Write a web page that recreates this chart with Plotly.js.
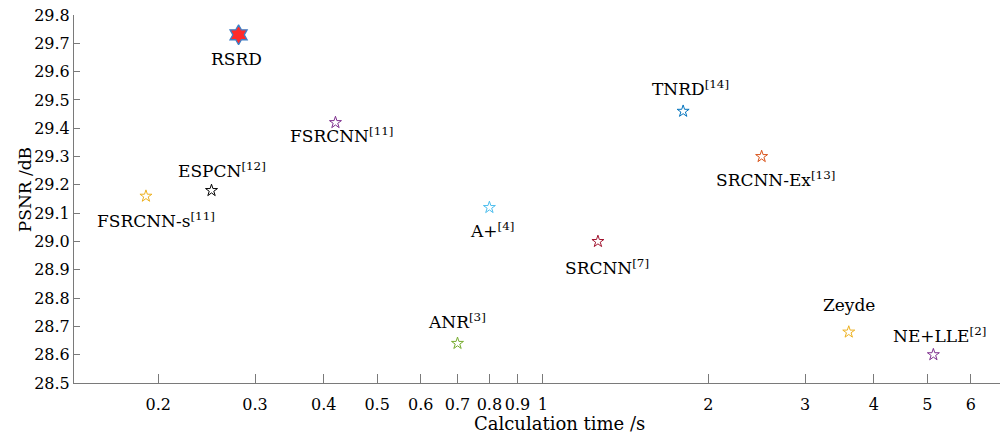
<!DOCTYPE html>
<html>
<head>
<meta charset="utf-8">
<script src="https://cdn.plot.ly/plotly-3.0.1.min.js"></script>
<style>
  html, body { margin: 0; padding: 0; background: #fff; }
  #chart { width: 1002px; height: 437px; }
</style>
</head>
<body>
<div id="chart"></div>
<script>
// ---- data ----
const methods = ["RSRD", "FSRCNN", "ESPCN", "FSRCNN-s", "A+", "SRCNN", "TNRD", "SRCNN-Ex", "ANR", "Zeyde", "NE+LLE"];
const refs    = ["", "[11]", "[12]", "[11]", "[4]", "[7]", "[14]", "[13]", "[3]", "", "[2]"];
const timeSec = [0.28, 0.42, 0.25, 0.19, 0.80, 1.26, 1.80, 2.50, 0.70, 3.60, 5.13];
const psnrDb  = [29.73, 29.42, 29.18, 29.16, 29.12, 29.00, 29.46, 29.30, 28.64, 28.68, 28.60];
const xTickVals = [0.2, 0.3, 0.4, 0.5, 0.6, 0.7, 0.8, 0.9, 1, 2, 3, 4, 5, 6];
const xTickText = ["0.2", "0.3", "0.4", "0.5", "0.6", "0.7", "0.8", "0.9", "1", "2", "3", "4", "5", "6"];

// ---- styling (not data) ----
const colors = ["#ff2a2a", "#7e2f8e", "#000000", "#edb120", "#4dbeee", "#a2142f", "#0072bd", "#d95319", "#77ac30", "#edb120", "#7e2f8e"];
const labelShift = [[-2, 24], [6, 12], [10, -21], [10, 24], [3, 23], [9, 26], [7, -23], [14, 22], [-1, -22], [0, -27], [6, -20]];
const FONT = "'DejaVu Serif', 'Liberation Serif', serif";

const traces = methods.map((m, i) => {
  const isOurs = i === 0;
  return {
    type: "scatter",
    mode: "markers",
    name: m,
    x: [timeSec[i]],
    y: [psnrDb[i]],
    marker: isOurs
      ? { symbol: "hexagram", size: 15, color: colors[i], line: { color: "#3f7fc6", width: 1.3 } }
      : { symbol: "star-open", size: 9, color: colors[i], line: { color: colors[i], width: 1 } },
    hoverinfo: "x+y+name"
  };
});

const annotations = methods.map((m, i) => ({
  xref: "x", yref: "y",
  x: Math.log10(timeSec[i]), y: psnrDb[i],
  text: m + (refs[i] ? "<sup>" + refs[i] + "</sup>" : ""),
  showarrow: false,
  xanchor: "center", yanchor: "middle",
  xshift: labelShift[i][0], yshift: -labelShift[i][1],
  font: { family: FONT, size: 17, color: "#000" }
}));

annotations.push({
  xref: "paper", yref: "paper", x: 0.524, y: 0, yshift: -40,
  xanchor: "center", yanchor: "middle", showarrow: false,
  text: "Calculation time /s", font: { family: FONT, size: 18, color: "#000" }
});
annotations.push({
  xref: "paper", yref: "paper", x: 0, y: 0.524, xshift: -49,
  xanchor: "center", yanchor: "middle", showarrow: false, textangle: -90,
  text: "PSNR /dB", font: { family: FONT, size: 17, color: "#000" }
});

const layout = {
  width: 1002, height: 437,
  margin: { l: 74, r: 2, t: 15, b: 54 },
  paper_bgcolor: "#fff", plot_bgcolor: "#fff",
  showlegend: false,
  font: { family: FONT, size: 16, color: "#000" },
  xaxis: {
    type: "log",
    range: [Math.log10(0.1406), Math.log10(6.78)],
    tickmode: "array", tickvals: xTickVals, ticktext: xTickText,
    ticks: "inside", ticklen: 9, tickwidth: 1, tickcolor: "#7a7a7a",
    ticklabelstandoff: 7,
    showline: true, linecolor: "#7a7a7a", linewidth: 1,
    showgrid: false, zeroline: false,
    tickfont: { family: FONT, size: 16, color: "#000" }
  },
  yaxis: {
    range: [28.5, 29.8],
    tickmode: "linear", tick0: 28.5, dtick: 0.1, tickformat: ".1f",
    ticks: "inside", ticklen: 6, tickwidth: 1, tickcolor: "#7a7a7a",
    showline: true, linecolor: "#7a7a7a", linewidth: 1,
    showgrid: false, zeroline: false,
    tickfont: { family: FONT, size: 16, color: "#000" }
  },
  annotations: annotations
};

Plotly.newPlot("chart", traces, layout, { staticPlot: true, displayModeBar: false });
</script>
</body>
</html>
